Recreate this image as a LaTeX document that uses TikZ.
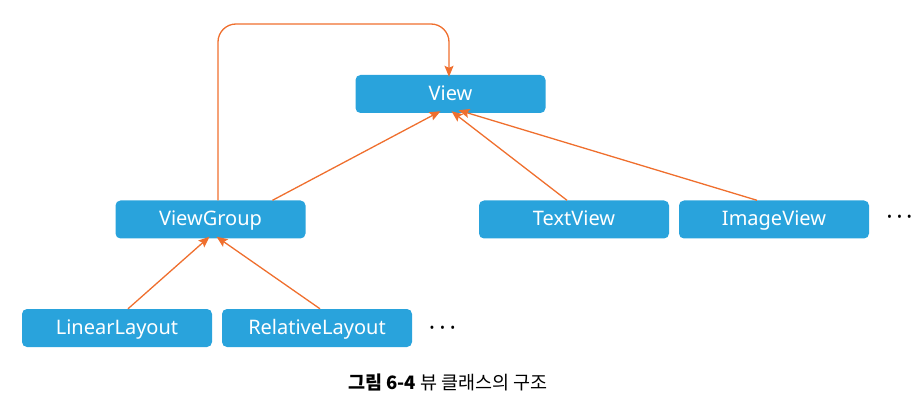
\documentclass[tikz,border=0pt]{standalone}
\usepackage{fontspec}
\setmainfont{Noto Sans}
\newfontfamily\kr{Noto Sans CJK KR}
\usetikzlibrary{arrows.meta}
\definecolor{boxblue}{HTML}{29A3DC}
\definecolor{arrowor}{HTML}{EF6F2E}
\begin{document}
\begin{tikzpicture}[x=1pt,y=-1pt,
  cls/.style={fill=boxblue, draw=none, rounded corners=5pt, minimum width=190pt, minimum height=38pt, text=white, font=\fontsize{20}{24}\selectfont, inner sep=0pt, text height=15.3pt, text depth=3pt},
  inh/.style={draw=arrowor, line width=1.3pt, -{Stealth[length=11pt,width=9pt,inset=2pt]}},
  dots/.style={font=\fontsize{13}{15}\selectfont, inner sep=0pt}]
\useasboundingbox (0,0) rectangle (922,401);
\node[cls] (view) at (450.5,94) {View};
\node[cls] (vg) at (210.5,219.5) {ViewGroup};
\node[cls] (tv) at (574,219.5) {TextView};
\node[cls] (iv) at (774,219.5) {ImageView};
\node[cls] (ll) at (117,328) {LinearLayout};
\node[cls] (rl) at (317,328) {RelativeLayout};
\node[dots] (d1) at (899.5,218) {•\hspace{5pt}•\hspace{5pt}•};
\node[dots] (d2) at (442.5,329) {•\hspace{5.5pt}•\hspace{5.5pt}•};
\node[font=\kr\fontsize{18.5}{21}\selectfont, inner sep=0pt] (cap) at (448,382) {\textbf{그림 6-4} 뷰 클래스의 구조};
\coordinate (vgtop) at ([xshift=7.5pt]vg.north);
\coordinate (viewtop) at ([xshift=-1.5pt]view.north);
\draw[inh, rounded corners=18pt] (vgtop) -- (vgtop |- 0,24) -- (viewtop |- 0,24) -- ([yshift=-2pt]viewtop);
\draw[inh] ([xshift=62pt]vg.north) -- ([xshift=-10pt,yshift=2pt]view.south);
\draw[inh] ([xshift=-7pt]tv.north) -- ([xshift=1pt,yshift=2pt]view.south);
\draw[inh] ([xshift=-17pt]iv.north) -- ([xshift=8pt,yshift=3pt]view.south);
\draw[inh] ([xshift=11pt]ll.north) -- ([xshift=-1pt,yshift=2pt]vg.south);
\draw[inh] ([xshift=3pt]rl.north) -- ([xshift=6pt,yshift=2pt]vg.south);
\end{tikzpicture}
\end{document}
